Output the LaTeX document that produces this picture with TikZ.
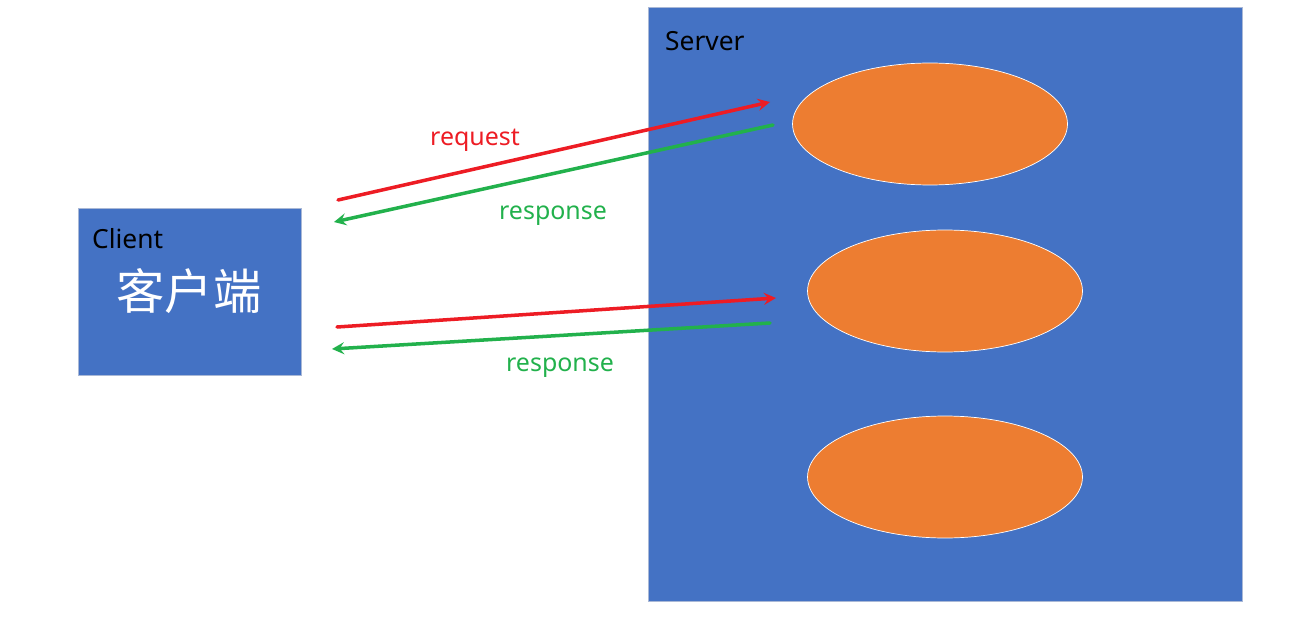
\documentclass[tikz,border=0pt]{standalone}
\usepackage{fontspec}
\setmainfont{Noto Sans}
\newfontfamily\cjk{Noto Sans CJK SC}
\usepackage{tikz}
\usetikzlibrary{shapes.geometric,positioning}
\definecolor{boxblue}{HTML}{4472C4}
\definecolor{boxedge}{HTML}{A9B8D6}
\definecolor{procorange}{HTML}{ED7D31}
\definecolor{reqred}{HTML}{ED1C24}
\definecolor{respgreen}{HTML}{22B14C}
\newcommand{\labelsize}{\fontsize{14.2}{17}\selectfont}

\begin{document}
\begin{tikzpicture}[x=0.02cm,y=-0.02cm]
	\tikzstyle{host}=[fill=boxblue,draw=boxedge,line width=0.5pt,rectangle,inner sep=0]
	\tikzstyle{proc}=[fill=procorange,draw=white,line width=0.4pt,ellipse,inner sep=0,minimum width=5.5cm,minimum height=2.44cm]
	\tikzstyle{request}=[-stealth,reqred,line width=2pt]
	\tikzstyle{response}=[-stealth,respgreen,line width=2pt]
	\useasboundingbox (0,0) rectangle (1307,618);
	
	%
	% client and server
	%
	\node [host,minimum width=4.46cm,minimum height=3.34cm] (client) at (189.5,291.5) {};
	\node [host,minimum width=11.88cm,minimum height=11.88cm] (server) at (945,304) {};
	
	\node [anchor=west,font=\fontsize{15}{18}\selectfont] (client-name) at (86,239) {Client};
	\node [white,font=\cjk\fontsize{27.5}{32}\selectfont] (client-cn) at (189,291) {客户端};
	\node [anchor=west,font=\fontsize{15}{18}\selectfont] (server-name) at (659,41) {Server};
	
	%
	% processes inside server
	%
	\node [proc] (proc1) at (930,124) {};
	\node [proc] (proc2) at (945,291) {};
	\node [proc] (proc3) at (945,477) {};
	
	%
	% arrow ends
	%
	\coordinate (req1-s) at (338,200);
	\coordinate (req1-e) at (770,102);
	\coordinate (resp1-s) at (773,125);
	\coordinate (resp1-e) at (334,222);
	\coordinate (req2-s) at (337,327);
	\coordinate (req2-e) at (776,298);
	\coordinate (resp2-s) at (770,323);
	\coordinate (resp2-e) at (332,349);
	
	\draw [request,line cap=round] (req1-s) -- (req1-e);
	\draw [response,line cap=round] (resp1-s) -- (resp1-e);
	\draw [request,line cap=round] (req2-s) -- (req2-e);
	\draw [response,line cap=round] (resp2-s) -- (resp2-e);
	
	\node [reqred,font=\labelsize] (req1-label) at (475,140) {request};
	\node [respgreen,font=\labelsize] (resp1-label) at (553,216) {response};
	\node [respgreen,font=\labelsize] (resp2-label) at (560,368) {response};
	
\end{tikzpicture}
\end{document}
